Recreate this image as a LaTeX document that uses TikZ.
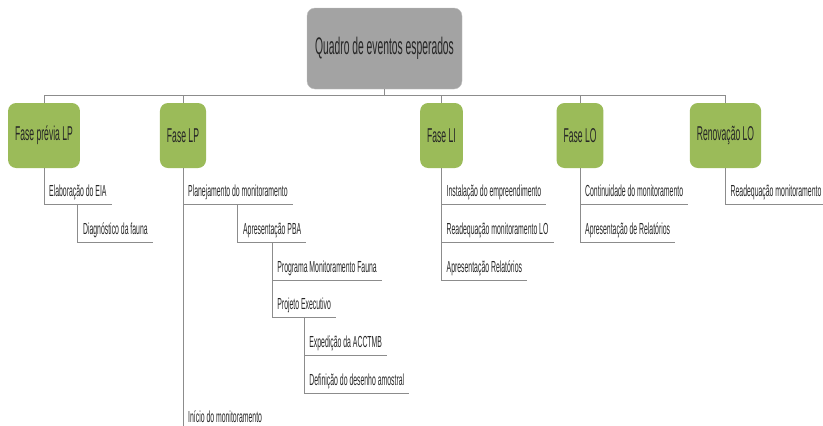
\documentclass[tikz,border=0pt]{standalone}
\usepackage{fontspec}
\setmainfont[FakeStretch=0.43]{Liberation Sans}
\definecolor{boxgreen}{HTML}{9BBB59}
\definecolor{boxgray}{HTML}{A3A3A3}
\definecolor{linegray}{HTML}{8C8C8C}
\tikzset{
  rootbox/.style={fill=boxgray, draw=boxgray!70!white, rounded corners=8pt,
    minimum width=155pt, minimum height=81pt, text=black!85,
    font=\fontsize{24}{26}\selectfont},
  phasebox/.style={fill=boxgreen, rounded corners=8pt, minimum height=65pt,
    inner xsep=7pt, text=black!85, font=\fontsize{20}{22}\selectfont},
  item/.style={anchor=south west, inner xsep=5pt, inner ysep=4pt,
    text depth=4pt, text=black!85, font=\fontsize{16}{18}\selectfont},
  conn/.style={draw=linegray, line width=1pt}
}

\begin{document}
\begin{tikzpicture}[x=1pt,y=-1pt]
\useasboundingbox (0,0) rectangle (823,426);
\clip (0,0) rectangle (823,426);
\node[rootbox] (root) at (384.5,48.5) {Quadro de eventos esperados};
\node[phasebox] (fpLP) at (44,135.5) {Fase prévia LP};
\node[phasebox] (faseLP) at (183,135.5) {Fase LP};
\node[phasebox] (faseLI) at (441.5,135.5) {Fase LI};
\node[phasebox] (faseLO) at (580,135.5) {Fase LO};
\node[phasebox] (renovLO) at (725.5,135.5) {Renovação LO};
\foreach \ph in {fpLP,faseLP,faseLI,faseLO,renovLO}
  \draw[conn] (root.south) -- ++(0,6) -| (\ph.north);

% Fase previa LP
\node[item] (elab) at ([yshift=-36pt]fpLP.south) {Elaboração do EIA};
\node[item] (diag) at ([yshift=-38pt]elab.south) {Diagnóstico da fauna};
\draw[conn] (fpLP.south) |- (elab.south east);
\draw[conn] (elab.south) |- (diag.south east);

% Fase LP
\node[item] (plan) at ([yshift=-36pt]faseLP.south) {Planejamento do monitoramento};
\node[item] (apres) at ([yshift=-38pt]plan.south) {Apresentação PBA};
\node[item] (prog) at ([yshift=-38pt]apres.south) {Programa Monitoramento Fauna};
\node[item] (proj) at ([yshift=-37pt]prog.south west) {Projeto Executivo};
\node[item] (exped) at ([yshift=-38pt]proj.south) {Expedição da ACCTMB};
\node[item] (defin) at ([yshift=-38pt]exped.south west) {Definição do desenho amostral};
\node[item] (inicio) at ([yshift=-226pt]plan.south west) {Início do monitoramento};
\draw[conn] (faseLP.south) |- (plan.south east);
\draw[conn] (faseLP.south) |- (inicio.south east);
\draw[conn] (plan.south) |- (apres.south east);
\draw[conn] (apres.south) |- (prog.south east);
\draw[conn] (apres.south) |- (proj.south east);
\draw[conn] (proj.south) |- (exped.south east);
\draw[conn] (proj.south) |- (defin.south east);

% Fase LI
\node[item] (inst) at ([yshift=-36pt]faseLI.south) {Instalação do empreendimento};
\node[item] (readLO) at ([yshift=-38pt]inst.south west) {Readequação monitoramento LO};
\node[item] (aprRel) at ([yshift=-38pt]readLO.south west) {Apresentação Relatórios};
\foreach \it in {inst,readLO,aprRel}
  \draw[conn] (faseLI.south) |- (\it.south east);

% Fase LO
\node[item] (cont) at ([yshift=-36pt]faseLO.south) {Continuidade do monitoramento};
\node[item] (aprDe) at ([yshift=-38pt]cont.south west) {Apresentação de Relatórios};
\foreach \it in {cont,aprDe}
  \draw[conn] (faseLO.south) |- (\it.south east);

% Renovacao LO
\node[item] (readeq) at ([yshift=-36pt]renovLO.south) {Readequação monitoramento};
\draw[conn] (renovLO.south) |- (readeq.south east);
\end{tikzpicture}
\end{document}
